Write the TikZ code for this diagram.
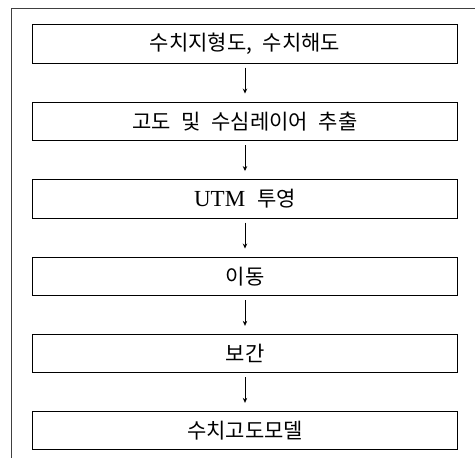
\documentclass[tikz,border=0pt]{standalone}
\usepackage{fontspec}
\setmainfont{Liberation Serif}
\newfontfamily\kr{Noto Sans CJK KR}
\usetikzlibrary{arrows.meta}
\newcommand{\gapw}{\hspace{10.5pt}}
\begin{document}
\begin{tikzpicture}[x=1pt,y=-1pt,
  stepbox/.style={draw=black, line width=1pt, minimum width=425pt, minimum height=38.5pt, inner sep=0pt, font=\kr\fontsize{21}{24}\selectfont},
  flow/.style={-{Stealth[length=5pt,width=4.5pt]}, line width=0.7pt, shorten <=4pt, shorten >=8pt},
  frame/.style={draw=black!75, line width=0.9pt}]
\useasboundingbox (0,0) rectangle (475,458);
\coordinate (fa) at (11,458);
\coordinate (fb) at (11,8);
\coordinate (fc) at (475,8);
\draw[frame] (fa) -- (fb) -- (fc);
\node[stepbox] (b1) at (245,43.8) {수치지형도,\gapw 수치해도};
\node[stepbox] (b2) at (245,121.3) {고도\gapw 및\gapw 수심레이어\gapw 추출};
\node[stepbox] (b3) at (245,198.8) {{\rmfamily\fontsize{23}{26}\selectfont UTM}\hspace{12pt}투영};
\node[stepbox] (b4) at (245,276.3) {이동};
\node[stepbox] (b5) at (245,353.6) {보간};
\node[stepbox] (b6) at (245,430.6) {수치고도모델};
\draw[flow] (b1) -- (b2);
\draw[flow] (b2) -- (b3);
\draw[flow] (b3) -- (b4);
\draw[flow] (b4) -- (b5);
\draw[flow] (b5) -- (b6);
\end{tikzpicture}
\end{document}
